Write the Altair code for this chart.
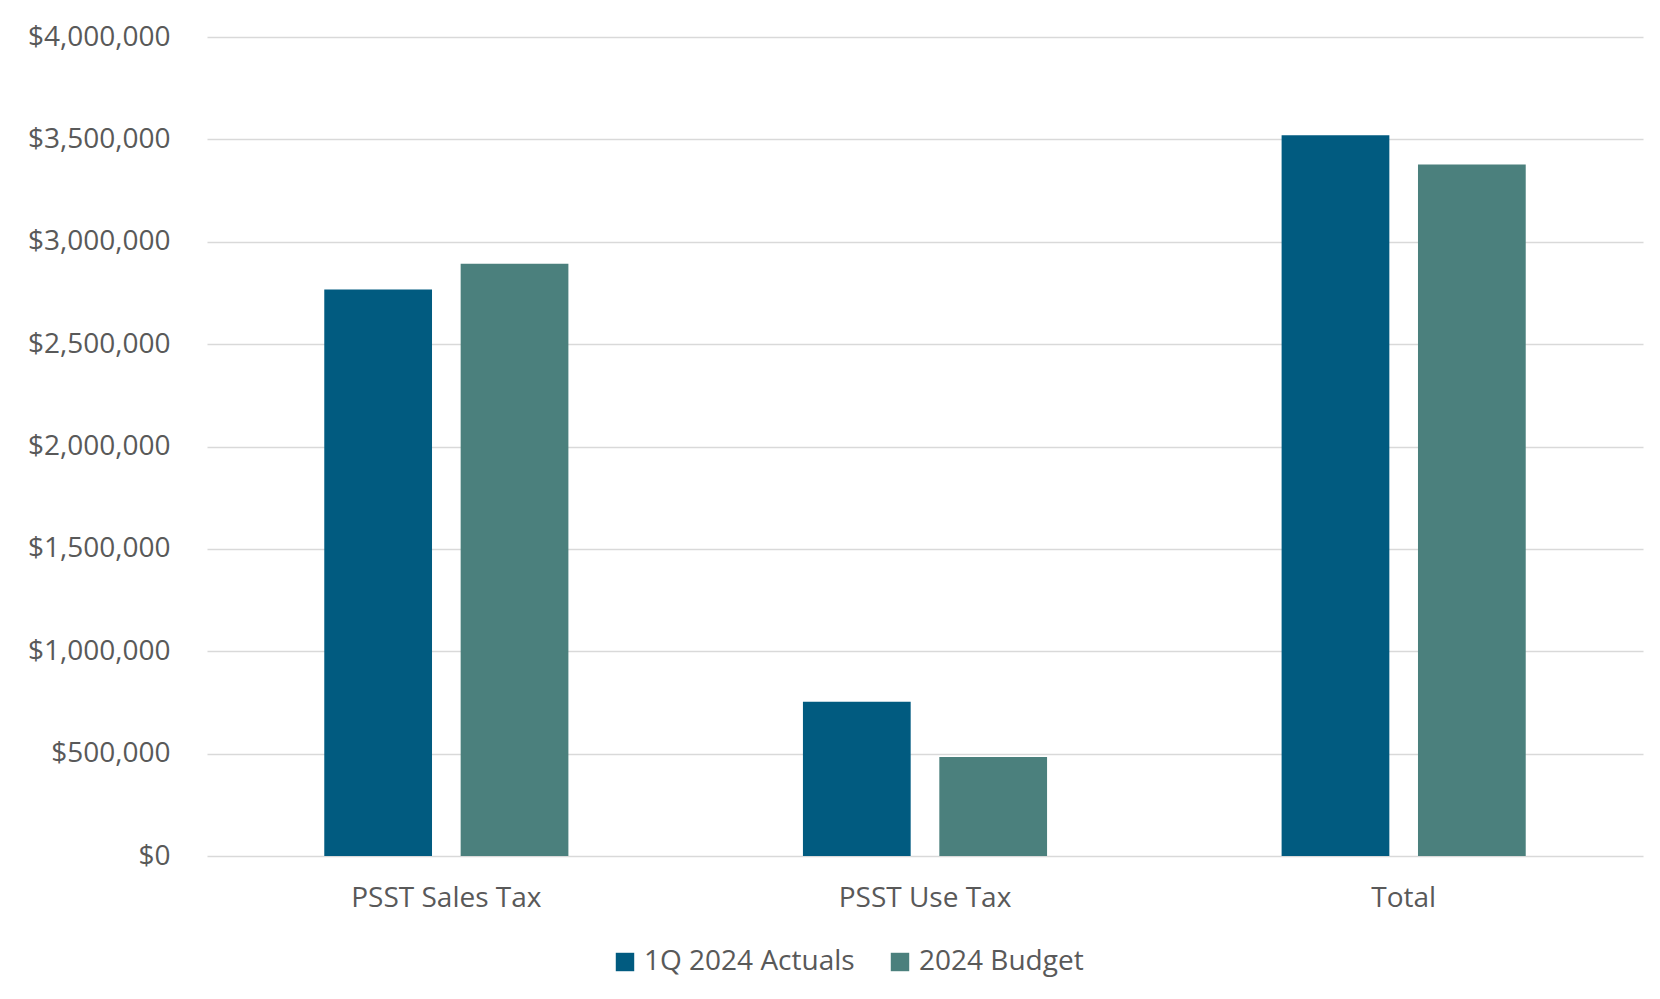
import altair as alt
import pandas as pd

categories = ["PSST Sales Tax", "PSST Use Tax", "Total"]
series = ["1Q 2024 Actuals", "2024 Budget"]
actuals = [2767000, 753000, 3520000]
budget = [2893000, 484000, 3377000]
colors = ["#015B80", "#4B807D"]

rows = []
for c, a, b in zip(categories, actuals, budget):
    rows.append({"category": c, "series": series[0], "value": a})
    rows.append({"category": c, "series": series[1], "value": b})
df = pd.DataFrame(rows)

FONT = "Open Sans"
TXT = "#595959"
FS = 28

chart = alt.Chart(df).mark_bar().encode(
    x=alt.X("category:N", sort=categories, title=None,
            scale=alt.Scale(paddingInner=0.49, paddingOuter=0.245),
            axis=alt.Axis(labelAngle=0, labelFontSize=FS, labelColor=TXT, labelFont=FONT,
                          labelLimit=0, ticks=False, tickSize=0, domain=False,
                          labelPadding=28, grid=False)),
    xOffset=alt.XOffset("series:N", sort=series,
                        scale=alt.Scale(paddingInner=0.21, paddingOuter=0)),
    y=alt.Y("value:Q", title=None,
            scale=alt.Scale(domain=[0, 4000000], nice=False),
            axis=alt.Axis(values=[0, 500000, 1000000, 1500000, 2000000, 2500000, 3000000, 3500000, 4000000],
                          format="$,.0f", labelFontSize=FS, labelColor=TXT, labelFont=FONT,
                          ticks=False, tickSize=0, domain=False, labelPadding=37,
                          gridColor="#D9D9D9", gridWidth=1.5)),
    color=alt.Color("series:N", sort=series,
                    scale=alt.Scale(domain=series, range=colors),
                    legend=alt.Legend(title=None, orient="none", direction="horizontal",
                                      legendX=404, legendY=911,
                                      symbolType="square", symbolSize=340, symbolStrokeWidth=0,
                                      labelFontSize=FS, labelColor=TXT, labelFont=FONT,
                                      labelLimit=0, labelOffset=5, columnPadding=31, padding=0)),
).properties(
    width=1436, height=819,
    padding={"left": 207, "top": 37, "right": 17, "bottom": 143},
    autosize=alt.AutoSizeParams(type="none"),
).configure(background="white").configure_view(strokeWidth=0)

chart.save("out.html", embed_options={"renderer": "svg", "actions": False})
